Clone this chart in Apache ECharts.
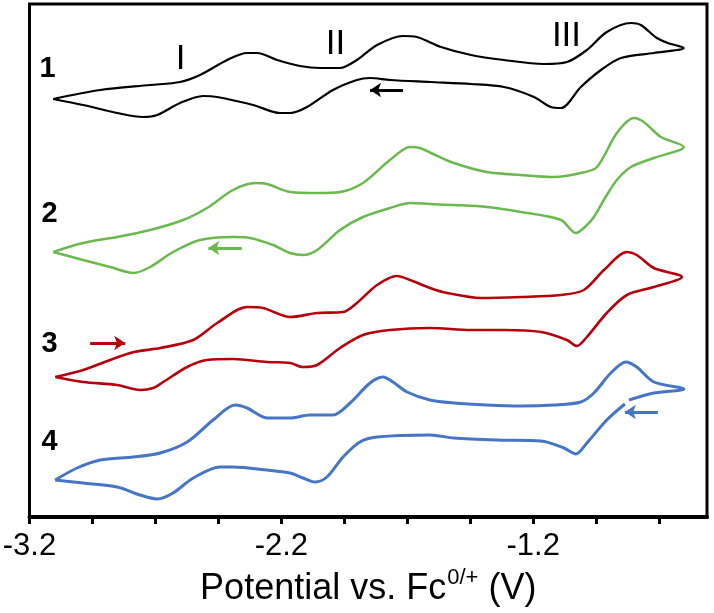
<!DOCTYPE html>
<html>
<head>
<meta charset="utf-8">
<script src="https://cdn.jsdelivr.net/npm/echarts@6/dist/echarts.min.js"></script>
<style>
html,body{margin:0;padding:0;background:#fff;}
#chart{width:714px;height:613px;}
</style>
</head>
<body>
<div id="chart"></div>
<script>
// Potential (V vs Fc) and current (arbitrary units, offset per trace)
const cv1 = [[-3.106,41.8],[-2.919,42.7],[-2.721,43.2],[-2.602,43.5],[-2.523,44.2],[-2.415,45.7],[-2.336,46.4],[-2.296,46.4],[-2.217,45.7],[-2.126,45.1],[-2.046,44.9],[-1.967,44.9],[-1.900,45.7],[-1.820,47.2],[-1.717,48.1],[-1.662,48.0],[-1.566,47.0],[-1.447,46.2],[-1.316,45.7],[-1.158,45.3],[-1.066,45.5],[-0.987,46.7],[-0.908,48.5],[-0.812,49.4],[-0.773,49.2],[-0.709,47.9],[-0.665,47.4],[-0.602,46.9],
  [-0.721,46.4],[-0.852,45.9],[-0.931,44.7],[-1.011,43.0],[-1.090,40.9],[-1.130,41.0],[-1.197,42.0],[-1.316,43.0],[-1.447,43.3],[-1.610,43.5],[-1.769,43.7],[-1.848,43.9],[-1.900,43.7],[-1.995,42.7],[-2.098,41.0],[-2.165,40.4],[-2.205,40.4],[-2.312,41.2],[-2.455,42.0],[-2.511,42.1],[-2.602,41.4],[-2.693,40.2],[-2.749,40.0],[-2.852,40.4],[-2.987,41.2],[-3.106,41.8]];

const cv2 = [[-3.106,26.5],[-2.987,27.4],[-2.852,28.0],[-2.721,28.7],[-2.590,29.7],[-2.495,30.9],[-2.392,32.7],[-2.304,33.4],[-2.257,33.3],[-2.165,32.5],[-2.058,32.4],[-1.967,32.5],[-1.876,33.4],[-1.769,35.7],[-1.689,37.0],[-1.650,36.9],[-1.606,36.4],[-1.515,35.4],[-1.384,34.5],[-1.249,34.2],[-1.118,34.0],[-1.011,34.4],[-0.947,35.0],[-0.868,38.4],[-0.800,39.9],[-0.761,39.5],[-0.693,38.0],[-0.602,37.0],
  [-0.721,35.9],[-0.812,35.0],[-0.868,33.7],[-0.915,31.9],[-0.959,30.0],[-0.999,28.9],[-1.031,28.4],[-1.090,29.7],[-1.249,30.5],[-1.384,31.0],[-1.515,31.2],[-1.610,31.3],[-1.689,31.4],[-1.769,30.9],[-1.876,30.0],[-1.967,28.7],[-2.058,26.7],[-2.114,26.2],[-2.165,26.4],[-2.233,27.2],[-2.324,27.9],[-2.392,28.0],[-2.523,27.7],[-2.630,26.5],[-2.721,25.0],[-2.788,24.4],[-2.880,25.0],[-2.987,25.7],[-3.106,26.5]];

const cv3 = [[-3.098,14.0],[-2.987,14.7],[-2.800,16.4],[-2.681,16.9],[-2.550,17.7],[-2.455,19.4],[-2.336,21.0],[-2.273,20.9],[-2.165,20.0],[-2.058,20.4],[-1.955,20.5],[-1.900,21.4],[-1.820,23.2],[-1.741,24.1],[-1.689,23.7],[-1.610,22.9],[-1.542,22.4],[-1.408,21.9],[-1.249,22.0],[-1.090,22.2],[-0.999,22.7],[-0.919,24.7],[-0.828,26.5],[-0.789,26.2],[-0.721,24.9],[-0.610,24.0],
  [-0.721,23.0],[-0.828,22.2],[-0.908,20.4],[-0.987,18.0],[-1.027,17.1],[-1.066,17.7],[-1.169,18.5],[-1.316,18.7],[-1.447,18.7],[-1.610,18.9],[-1.769,18.7],[-1.876,18.2],[-1.967,16.9],[-2.058,15.2],[-2.114,15.0],[-2.165,15.4],[-2.257,15.5],[-2.392,15.8],[-2.495,15.7],[-2.574,15.0],[-2.669,13.5],[-2.709,12.9],[-2.761,12.7],[-2.852,13.2],[-2.987,13.5],[-3.098,14.0]];

const cv4 = [[-3.098,3.7],[-3.011,4.9],[-2.919,5.7],[-2.788,6.0],[-2.681,6.4],[-2.574,7.5],[-2.471,9.7],[-2.384,11.2],[-2.336,10.9],[-2.257,9.9],[-2.165,9.9],[-2.086,10.2],[-1.995,10.2],[-1.927,11.4],[-1.848,13.4],[-1.796,14.0],[-1.757,13.5],[-1.701,12.5],[-1.610,11.7],[-1.515,11.4],[-1.384,11.2],[-1.249,11.1],[-1.118,11.2],[-1.011,11.5],[-0.959,12.4],[-0.892,14.4],[-0.832,15.5],[-0.789,15.0],[-0.721,13.5],[-0.602,12.8],
  [-0.721,12.4],[-0.820,11.7],[-0.828,'-'],[-0.836,11.3],[-0.908,9.7],[-0.987,7.4],[-1.031,6.3],[-1.078,6.9],[-1.169,7.6],[-1.344,7.7],[-1.515,7.9],[-1.610,8.2],[-1.820,8.0],[-1.888,7.5],[-1.955,6.0],[-2.019,4.0],[-2.066,3.5],[-2.114,3.9],[-2.165,4.4],[-2.257,4.7],[-2.392,5.0],[-2.443,5.0],[-2.550,3.9],[-2.630,2.4],[-2.693,1.8],[-2.761,2.2],[-2.852,3.0],[-2.987,3.4],[-3.098,3.7]];

// scan-direction arrows: [tail, head]
const arrow1 = [[-1.717,42.7],[-1.848,42.7]];
const arrow2 = [[-2.357,26.9],[-2.490,26.9]];
const arrow3 = [[-2.959,17.4],[-2.820,17.4]];
const arrow4 = [[-0.705,10.5],[-0.836,10.5]];

const traceNames = ['1','2','3','4'];
const waveNames = ['I','II','III'];
const tickValues = [-3.2,-2.95,-2.7,-2.45,-2.2,-1.95,-1.7,-1.45,-1.2,-0.95,-0.7];
const tickLabels = [-3.2,-2.2,-1.2];

// annotation anchor points (data units)
const traceLabelPos = [[-3.126,44.8],[-3.118,30.3],[-3.118,17.3],[-3.118,7.5]];
const waveLabelPos = [[-2.598,45.7],[-1.983,47.2],[-1.066,48.0]];

const colors = ['#000000','#6ab94f','#b5000b','#4675c5'];
const widths = [2.2,2.5,2.6,3];

const chart = echarts.init(document.getElementById('chart'), null, {renderer:'canvas'});

function cvSeries(data, arrow, i){
  return {
    type:'line', name:traceNames[i], data:data, showSymbol:false, smooth:0.3,
    connectNulls:false, silent:true, animation:false,
    lineStyle:{color:colors[i], width:widths[i]},
    itemStyle:{color:colors[i]},
    markLine:{
      silent:true, animation:false,
      symbol:['none','arrow'], symbolSize:[11,11],
      label:{show:false},
      lineStyle:{color:colors[i], width:3, type:'solid'},
      data:[[{coord:arrow[0]},{coord:arrow[1]}]]
    }
  };
}

function labelSeries(name, pos, names, font){
  return {
    type:'scatter', name:name, symbol:'circle', symbolSize:1, silent:true, animation:false,
    itemStyle:{color:'#ffffff', opacity:0},
    data:pos.map((p,i)=>({value:p, name:names[i]})),
    label:Object.assign({show:true, position:[0,0], align:'center', verticalAlign:'middle',
      formatter:'{b}', color:'#000000', opacity:1, textBorderWidth:0}, font)
  };
}

const option = {
  backgroundColor:'#fff',
  animation:false,
  grid:{left:29.5, right:7, top:4, bottom:96, show:true, borderColor:'#000', borderWidth:3,
        containLabel:false, outerBoundsMode:'none'},
  xAxis:{
    type:'value', min:-3.2, max:-0.51,
    name:'{a|Potential vs. Fc}{s|0/+}{a| (V)}',
    nameLocation:'middle', nameGap:47,
    nameTextStyle:{
      rich:{
        a:{fontFamily:'Liberation Sans', fontSize:36, color:'#000', verticalAlign:'bottom', lineHeight:40},
        s:{fontFamily:'Liberation Sans', fontSize:22, color:'#000', verticalAlign:'top', lineHeight:40, padding:[0,0,0,1]}
      }
    },
    axisLine:{show:true, onZero:false, lineStyle:{color:'#000', width:4}},
    axisTick:{show:true, inside:false, length:7, lineStyle:{color:'#000', width:3}, customValues:tickValues},
    axisLabel:{show:true, margin:14, fontFamily:'Liberation Sans', fontSize:31, color:'#000',
      customValues:tickLabels, formatter:(v)=>v.toFixed(1)},
    splitLine:{show:false}
  },
  yAxis:{type:'value', min:0, max:51.3, show:false, splitLine:{show:false}},
  series:[
    cvSeries(cv1, arrow1, 0),
    cvSeries(cv2, arrow2, 1),
    cvSeries(cv3, arrow3, 2),
    cvSeries(cv4, arrow4, 3),
    labelSeries('trace labels', traceLabelPos, traceNames, {fontFamily:'Liberation Sans', fontWeight:'bold', fontSize:29}),
    labelSeries('wave labels', waveLabelPos, waveNames, {fontFamily:'Liberation Sans', fontSize:35})
  ]
};
chart.setOption(option);
</script>
</body>
</html>
